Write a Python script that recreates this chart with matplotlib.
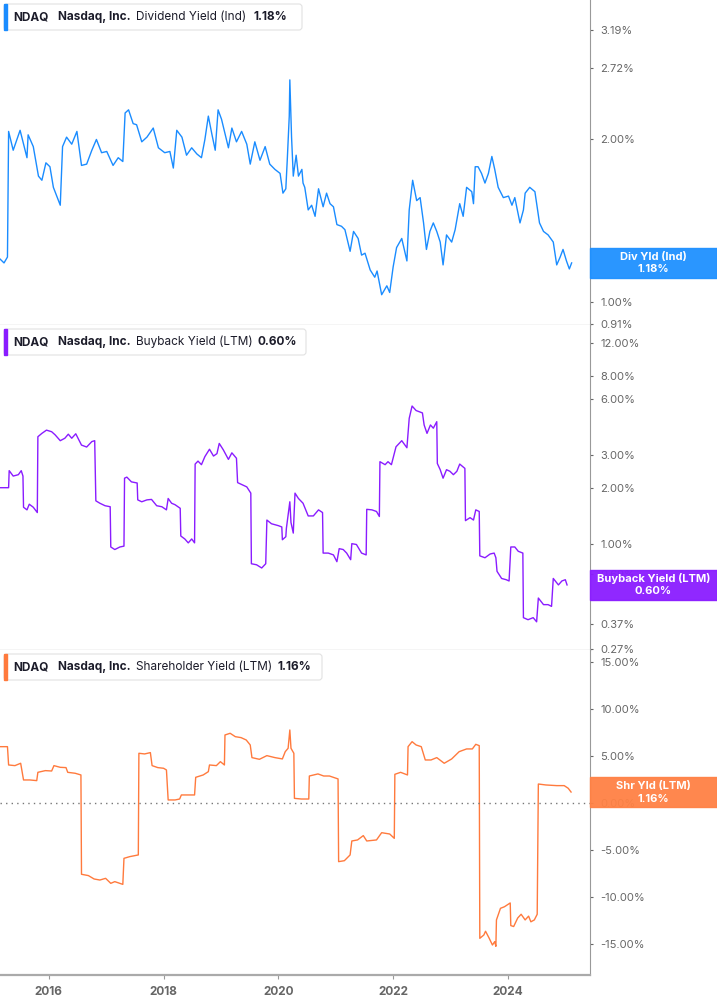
import matplotlib
matplotlib.use("Agg")
import matplotlib.pyplot as plt
from matplotlib.patches import Rectangle, FancyBboxPatch
from matplotlib.ticker import FixedLocator, FuncFormatter, NullLocator
from matplotlib.transforms import Affine2D

plt.rcParams['font.family'] = ['Inter', 'DejaVu Sans']

# dividend yield (Ind), % - decimal years
div_t = [2015.15, 2015.22, 2015.28, 2015.30, 2015.38, 2015.50, 2015.62, 2015.64, 2015.73, 2015.82,
         2015.88, 2015.95, 2016.02, 2016.08, 2016.20, 2016.24, 2016.31, 2016.40, 2016.49, 2016.57,
         2016.66, 2016.75, 2016.83, 2016.92, 2017.01, 2017.12, 2017.21, 2017.29, 2017.33, 2017.39,
         2017.47, 2017.53, 2017.62, 2017.71, 2017.82, 2017.91, 2018.02, 2018.11, 2018.17, 2018.23,
         2018.32, 2018.40, 2018.49, 2018.58, 2018.66, 2018.72, 2018.78, 2018.84, 2018.90, 2018.95,
         2019.01, 2019.13, 2019.19, 2019.27, 2019.36, 2019.45, 2019.51, 2019.59, 2019.68, 2019.77,
         2019.85, 2019.94, 2020.03, 2020.08, 2020.13, 2020.155, 2020.19, 2020.20, 2020.23, 2020.26,
         2020.31, 2020.35, 2020.41, 2020.43, 2020.46, 2020.52, 2020.58, 2020.64, 2020.70, 2020.78,
         2020.84, 2020.90, 2020.96, 2021.02, 2021.10, 2021.16, 2021.25, 2021.31, 2021.39, 2021.45,
         2021.51, 2021.60, 2021.68, 2021.72, 2021.80, 2021.89, 2021.94, 2022.00, 2022.06, 2022.15,
         2022.24, 2022.28, 2022.34, 2022.41, 2022.47, 2022.53, 2022.58, 2022.64, 2022.70, 2022.76,
         2022.82, 2022.87, 2022.93, 2023.02, 2023.08, 2023.16, 2023.22, 2023.28, 2023.37, 2023.40,
         2023.43, 2023.48, 2023.54, 2023.60, 2023.66, 2023.72, 2023.77, 2023.83, 2023.92, 2024.01,
         2024.07, 2024.12, 2024.21, 2024.27, 2024.30, 2024.38, 2024.47, 2024.55, 2024.62, 2024.70,
         2024.79, 2024.85, 2024.91, 2024.96, 2025.02, 2025.07, 2025.11]
div_v = [1.20, 1.18, 1.21, 2.07, 1.91, 2.08, 1.85, 2.04, 1.94, 1.71,
         1.68, 1.81, 1.78, 1.63, 1.51, 1.94, 2.02, 1.96, 2.07, 1.79,
         1.80, 1.91, 2.00, 1.89, 1.90, 1.79, 1.85, 1.82, 2.24, 2.27,
         2.14, 2.13, 1.98, 2.02, 2.10, 1.93, 1.89, 1.90, 1.77, 2.08,
         2.02, 1.87, 1.93, 1.88, 1.85, 2.00, 2.21, 2.05, 1.91, 2.27,
         2.18, 1.93, 2.10, 1.98, 2.07, 1.96, 1.80, 1.98, 1.83, 1.94,
         1.80, 1.76, 1.73, 1.59, 1.62, 1.83, 2.21, 2.58, 2.02, 1.71,
         1.87, 1.71, 1.76, 1.66, 1.63, 1.48, 1.51, 1.44, 1.62, 1.50,
         1.59, 1.52, 1.50, 1.39, 1.38, 1.36, 1.24, 1.35, 1.31, 1.22,
         1.23, 1.145, 1.11, 1.14, 1.03, 1.07, 1.04, 1.16, 1.26, 1.31,
         1.19, 1.48, 1.68, 1.54, 1.56, 1.40, 1.25, 1.35, 1.40, 1.35,
         1.29, 1.17, 1.33, 1.29, 1.36, 1.52, 1.44, 1.63, 1.60, 1.52,
         1.78, 1.78, 1.73, 1.66, 1.73, 1.86, 1.76, 1.63, 1.56, 1.57,
         1.51, 1.56, 1.40, 1.48, 1.59, 1.63, 1.60, 1.40, 1.35, 1.33,
         1.29, 1.17, 1.21, 1.25, 1.19, 1.15, 1.18]

# buyback yield (LTM), %
bb_t = [2015.15, 2015.30, 2015.31, 2015.38, 2015.47, 2015.52, 2015.55, 2015.56, 2015.62, 2015.66,
        2015.73, 2015.80, 2015.81, 2015.88, 2015.96, 2016.05, 2016.11, 2016.20, 2016.28, 2016.34,
        2016.40, 2016.47, 2016.57, 2016.66, 2016.75, 2016.80, 2016.82, 2016.89, 2016.98, 2017.07,
        2017.08, 2017.15, 2017.24, 2017.31, 2017.32, 2017.36, 2017.44, 2017.54, 2017.55, 2017.62,
        2017.71, 2017.79, 2017.88, 2017.97, 2018.05, 2018.08, 2018.14, 2018.20, 2018.29, 2018.30,
        2018.37, 2018.43, 2018.49, 2018.54, 2018.55, 2018.60, 2018.66, 2018.72, 2018.80, 2018.87,
        2018.93, 2018.97, 2019.04, 2019.13, 2019.19, 2019.27, 2019.29, 2019.36, 2019.45, 2019.52,
        2019.53, 2019.62, 2019.71, 2019.78, 2019.80, 2019.88, 2020.00, 2020.06, 2020.07, 2020.13,
        2020.14, 2020.17, 2020.20, 2020.22, 2020.26, 2020.29, 2020.35, 2020.43, 2020.52, 2020.61,
        2020.70, 2020.77, 2020.78, 2020.87, 2020.96, 2021.02, 2021.06, 2021.13, 2021.19, 2021.26,
        2021.28, 2021.36, 2021.45, 2021.53, 2021.54, 2021.63, 2021.71, 2021.76, 2021.77, 2021.86,
        2021.91, 2021.97, 2022.05, 2022.15, 2022.24, 2022.28, 2022.33, 2022.40, 2022.47, 2022.51,
        2022.54, 2022.59, 2022.65, 2022.70, 2022.76, 2022.77, 2022.82, 2022.87, 2022.93, 2022.99,
        2023.05, 2023.11, 2023.16, 2023.25, 2023.26, 2023.34, 2023.40, 2023.44, 2023.50, 2023.51,
        2023.60, 2023.69, 2023.76, 2023.79, 2023.81, 2023.89, 2023.97, 2024.02, 2024.05, 2024.12,
        2024.18, 2024.26, 2024.27, 2024.35, 2024.44, 2024.50, 2024.53, 2024.62, 2024.70, 2024.76,
        2024.79, 2024.88, 2024.94, 2025.00, 2025.03]
bb_v = [2.00, 2.00, 2.47, 2.31, 2.35, 2.47, 2.31, 1.57, 1.52, 1.63,
        1.57, 1.47, 3.76, 3.92, 4.08, 4.00, 3.85, 3.58, 3.69, 3.88,
        3.69, 3.90, 3.39, 3.31, 3.54, 3.58, 1.70, 1.65, 1.60, 1.58,
        0.96, 0.93, 0.96, 0.97, 2.25, 2.28, 2.15, 2.12, 1.72, 1.68,
        1.72, 1.73, 1.60, 1.58, 1.52, 1.75, 1.65, 1.62, 1.55, 1.10,
        1.06, 1.01, 1.06, 1.01, 2.68, 2.78, 2.66, 2.94, 3.22, 2.96,
        3.05, 3.46, 3.20, 2.84, 3.08, 2.88, 2.13, 2.08, 2.02, 1.87,
        0.78, 0.77, 0.74, 0.78, 1.34, 1.28, 1.25, 1.23, 1.05, 1.09,
        1.21, 1.43, 1.68, 1.30, 1.14, 1.87, 1.75, 1.65, 1.41, 1.41,
        1.52, 1.47, 0.89, 0.89, 0.87, 0.80, 0.94, 0.93, 0.89, 0.82,
        1.00, 0.99, 0.89, 0.87, 1.53, 1.52, 1.49, 1.40, 2.76, 2.66,
        2.76, 2.66, 3.32, 3.58, 3.28, 4.72, 5.50, 5.20, 5.10, 5.05,
        4.35, 3.92, 4.35, 4.18, 4.53, 2.70, 2.50, 2.25, 2.50, 2.45,
        2.35, 2.45, 2.68, 2.54, 1.33, 1.38, 1.34, 1.52, 1.49, 0.86,
        0.84, 0.88, 0.89, 0.84, 0.71, 0.65, 0.64, 0.63, 0.96, 0.96,
        0.91, 0.89, 0.40, 0.39, 0.40, 0.38, 0.51, 0.47, 0.47, 0.46,
        0.65, 0.60, 0.63, 0.64, 0.60]

# shareholder yield (LTM), %
shr_t = [2015.15, 2015.28, 2015.30, 2015.41, 2015.51, 2015.56, 2015.67, 2015.79, 2015.81, 2015.94,
         2016.05, 2016.09, 2016.20, 2016.30, 2016.33, 2016.46, 2016.56, 2016.57, 2016.69, 2016.79,
         2016.89, 2016.99, 2017.08, 2017.15, 2017.29, 2017.31, 2017.41, 2017.56, 2017.57, 2017.67,
         2017.77, 2017.80, 2017.90, 2018.00, 2018.05, 2018.08, 2018.20, 2018.28, 2018.31, 2018.43,
         2018.54, 2018.56, 2018.69, 2018.78, 2018.80, 2018.92, 2018.99, 2019.06, 2019.07, 2019.16,
         2019.25, 2019.35, 2019.44, 2019.51, 2019.54, 2019.67, 2019.80, 2019.94, 2020.07, 2020.12,
         2020.17, 2020.20, 2020.22, 2020.27, 2020.28, 2020.40, 2020.53, 2020.54, 2020.69, 2020.79,
         2020.89, 2021.04, 2021.05, 2021.15, 2021.25, 2021.28, 2021.38, 2021.48, 2021.54, 2021.71,
         2021.80, 2021.94, 2022.02, 2022.03, 2022.13, 2022.25, 2022.26, 2022.33, 2022.40, 2022.49,
         2022.56, 2022.66, 2022.76, 2022.89, 2023.02, 2023.15, 2023.28, 2023.38, 2023.44, 2023.50,
         2023.51, 2023.58, 2023.61, 2023.67, 2023.73, 2023.77, 2023.79, 2023.80, 2023.87, 2023.94,
         2024.04, 2024.05, 2024.10, 2024.17, 2024.23, 2024.30, 2024.36, 2024.40, 2024.46, 2024.51,
         2024.53, 2024.66, 2024.85, 2024.98, 2025.05, 2025.10]
shr_v = [5.97, 5.97, 4.03, 3.96, 4.21, 2.44, 2.44, 2.37, 3.25, 3.43,
         3.39, 3.96, 3.78, 3.75, 3.25, 3.15, 2.97, -7.56, -7.70, -8.06,
         -8.17, -7.99, -8.52, -8.34, -8.63, -5.87, -5.69, -5.51, 5.27, 5.20,
         5.34, 3.96, 3.75, 3.68, 3.50, 0.32, 0.32, 0.42, 0.85, 0.85,
         0.85, 2.72, 2.97, 3.32, 4.03, 3.96, 4.38, 4.03, 7.21, 7.39,
         7.03, 6.93, 6.68, 6.15, 4.81, 4.63, 5.02, 4.81, 4.67, 5.44,
         5.80, 7.74, 5.80, 5.27, 0.49, 0.42, 0.42, 2.86, 3.08, 2.86,
         2.86, 2.55, -6.22, -6.12, -5.51, -4.03, -3.92, -3.46, -4.03, -3.92,
         -3.15, -3.29, -3.75, 3.04, 3.25, 2.97, 5.97, 6.50, 6.15, 5.97,
         4.56, 4.56, 4.81, 4.21, 4.67, 5.44, 5.73, 5.73, 6.22, 6.08,
         -14.35, -14.0, -13.6, -14.3, -15.06, -14.7, -15.2, -12.4, -11.17, -11.0,
         -10.6, -13.0, -13.1, -12.2, -11.8, -12.4, -12.0, -12.6, -12.4, -11.8,
         2.01, 1.91, 1.84, 1.84, 1.56, 1.16]

year_ticks = [2016, 2018, 2020, 2022, 2024]
div_ticks = [0.91, 1.00, 2.00, 2.72, 3.19]
bb_ticks = [0.27, 0.37, 0.69, 1.00, 2.00, 3.00, 6.00, 8.00, 12.00]
shr_ticks = [-15, -10, -5, 0, 5, 10, 15]

W, H = 717, 1005
fig = plt.figure(figsize=(W / 100, H / 100), dpi=100)
# pixel coords, origin top-left
px = Affine2D().scale(1, -1).translate(0, H) + Affine2D().scale(1 / W, 1 / H) + fig.transFigure

panels = [
    dict(top=0, t=div_t, v=div_v, c='#1a8cff', bc='#1e90ff', log=True, ylim=(0.905, 3.63),
         ticks=div_ticks, name='Dividend Yield (Ind)', badge='Div Yld (Ind)', vx=253, bw=298),
    dict(top=325, t=bb_t, v=bb_v, c='#8a1cff', bc='#8a1cff', log=True, ylim=(0.268, 15.0),
         ticks=bb_ticks, name='Buyback Yield (LTM)', badge='Buyback Yield (LTM)', vx=258, bw=302),
    dict(top=650, t=shr_t, v=shr_v, c='#ff7a3d', bc='#ff8144', log=False, ylim=(-18.24, 16.22),
         ticks=shr_ticks, name='Shareholder Yield (LTM)', badge='Shr Yld (LTM)', vx=278, bw=318),
]

for i, p in enumerate(panels):
    top = p['top']
    ax = fig.add_axes([0, 1 - (top + 325) / H, 590 / W, 325 / H])
    ax.plot(p['t'], p['v'], color=p['c'], lw=1.0)
    ax.set_xlim(2015.15, 2025.43)
    if p['log']:
        ax.set_yscale('log')
    ax.set_ylim(*p['ylim'])
    ax.yaxis.tick_right()
    ax.yaxis.set_major_locator(FixedLocator(p['ticks']))
    ax.yaxis.set_minor_locator(NullLocator())
    ax.yaxis.set_major_formatter(FuncFormatter(lambda y, _: f"{y:.2f}%"))
    ax.tick_params(axis='y', which='both', direction='out', length=2.5, width=0.8,
                   color='#666', labelcolor='#666', labelsize=8, pad=5)
    for s in ['top', 'left']:
        ax.spines[s].set_visible(False)
    ax.spines['right'].set_color('#999')
    ax.spines['bottom'].set_color('#d0d0d0')
    ax.spines['bottom'].set_linewidth(1.0)

    if i < 2:
        ax.tick_params(axis='x', length=0, labelbottom=False)
    else:
        ax.axhline(0, color='#777', lw=1, ls=(0, (1, 3)))
        ax.set_xticks(year_ticks)
        ax.set_xticklabels([str(y) for y in year_ticks])
        ax.tick_params(axis='x', length=3, width=0.8, color='#999', labelcolor='#666',
                       labelsize=8.5, pad=5)
        for lab in ax.get_xticklabels():
            lab.set_fontweight('bold')
        ax.spines['bottom'].set_color('#aaaaaa')
        ax.spines['bottom'].set_linewidth(1.6)

    # value badge on the right
    last = p['v'][-1]
    yf = ax.transAxes.inverted().transform(ax.transData.transform((2020, last)))[1]
    bh = 30 / 325
    ax.add_patch(Rectangle((1.0, yf - bh / 2), 127 / 590, bh, transform=ax.transAxes,
                           clip_on=False, color=p['bc'], alpha=0.95, zorder=5))
    ax.text(1 + 63.5 / 590, yf + 6 / 325, p['badge'], transform=ax.transAxes, ha='center',
            va='center', color='white', fontsize=8, fontweight='bold', zorder=6, clip_on=False)
    ax.text(1 + 63.5 / 590, yf - 6.5 / 325, f"{last:.2f}%", transform=ax.transAxes, ha='center',
            va='center', color='white', fontsize=8, fontweight='bold', zorder=6, clip_on=False)

    # legend box
    by = top + 4
    fig.patches.append(FancyBboxPatch((4, by), p['bw'], 26, boxstyle='round,pad=0,rounding_size=3',
                                      fc='white', ec='#e2e2e2', lw=0.8, transform=px, zorder=3))
    fig.patches.append(Rectangle((4, by), 3, 26, color=p['c'], transform=px, zorder=4))
    cy = by + 13
    fig.text(13, cy, 'NDAQ', transform=px, va='center', fontsize=8.5, fontweight='bold', color='#1c1c2a')
    fig.text(58, cy, 'Nasdaq, Inc.', transform=px, va='center', fontsize=8.5, fontweight='bold', color='#1c1c2a')
    fig.text(136, cy, p['name'], transform=px, va='center', fontsize=8.5, color='#1c1c2a')
    fig.text(p['vx'], cy, f"{last:.2f}%", transform=px, va='center', fontsize=8.5,
             fontweight='bold', color='#1c1c2a')

fig.savefig('out.png', dpi=100, facecolor='white')
